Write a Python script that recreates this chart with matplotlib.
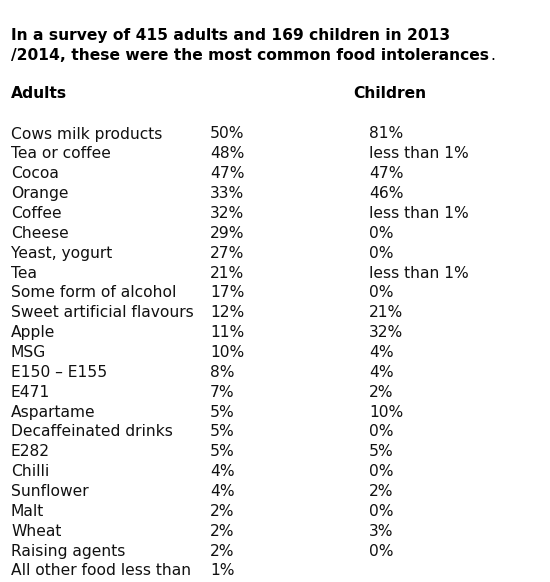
import matplotlib
matplotlib.use("Agg")
import matplotlib.pyplot as plt

title_lines = ["In a survey of 415 adults and 169 children in 2013",
               "/2014, these were the most common food intolerances"]
title_end = "."
col_headers = ["Adults", "Children"]
foods = ["Cows milk products", "Tea or coffee", "Cocoa", "Orange", "Coffee",
         "Cheese", "Yeast, yogurt", "Tea", "Some form of alcohol",
         "Sweet artificial flavours", "Apple", "MSG", "E150 \u2013 E155", "E471",
         "Aspartame", "Decaffeinated drinks", "E282", "Chilli", "Sunflower",
         "Malt", "Wheat", "Raising agents", "All other food less than"]
adults = ["50%", "48%", "47%", "33%", "32%", "29%", "27%", "21%", "17%", "12%",
          "11%", "10%", "8%", "7%", "5%", "5%", "5%", "4%", "4%", "2%", "2%",
          "2%", "1%"]
children = ["81%", "less than 1%", "47%", "46%", "less than 1%", "0%", "0%",
            "less than 1%", "0%", "21%", "32%", "4%", "4%", "2%", "10%", "0%",
            "5%", "0%", "2%", "0%", "3%", "0%", ""]

W, H = 550, 582
fig = plt.figure(figsize=(W / 100, H / 100), dpi=100)
ax = fig.add_axes([0, 0, 1, 1])
ax.set_xlim(0, W)
ax.set_ylim(H, 0)
ax.axis("off")

fs = 11.2
ax.text(11, 35.5, title_lines[0], fontsize=fs, fontweight="bold", va="center", ha="left", color="black")
t2 = ax.text(11, 56, title_lines[1], fontsize=fs, fontweight="bold", va="center", ha="left", color="black")
ax.annotate(title_end, xy=(1, 0), xycoords=t2, xytext=(1, 0), textcoords="offset points",
            fontsize=fs, va="bottom", ha="left", color="black")

ax.text(11, 93.5, col_headers[0], fontsize=fs, fontweight="bold", va="center", ha="left")
ax.text(353, 93.5, col_headers[1], fontsize=fs, fontweight="bold", va="center", ha="left")

y0, dy = 134, 19.86
for i, (f, a, c) in enumerate(zip(foods, adults, children)):
    y = y0 + i * dy
    ax.text(11, y, f, fontsize=fs, va="center", ha="left", color="#111111")
    ax.text(210, y, a, fontsize=fs, va="center", ha="left", color="#111111")
    if c:
        ax.text(369, y, c, fontsize=fs, va="center", ha="left", color="#111111")

fig.savefig("out.png", dpi=100, facecolor="white")
